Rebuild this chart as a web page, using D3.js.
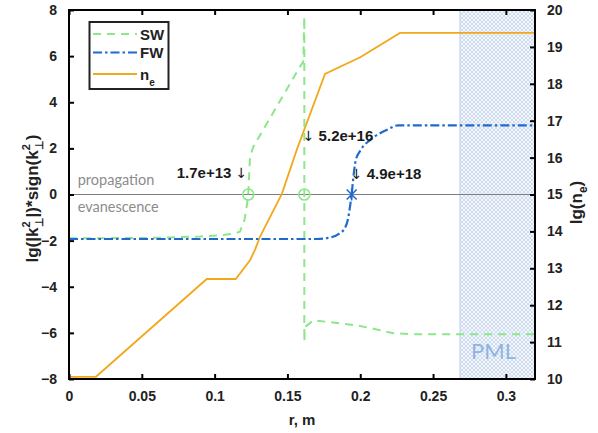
<!DOCTYPE html>
<html><head><meta charset="utf-8">
<script src="https://cdn.jsdelivr.net/npm/d3@7"></script>
<style>body{margin:0;background:#fff}svg{display:block}</style>
</head><body>
<script>
// ---------- data ----------
const xTicks = [0, 0.05, 0.1, 0.15, 0.2, 0.25, 0.3];
const xTickLabels = ["0", "0.05", "0.1", "0.15", "0.2", "0.25", "0.3"];
const yLeftTicks = [-8, -6, -4, -2, 0, 2, 4, 6, 8];
const yRightTicks = [10, 11, 12, 13, 14, 15, 16, 17, 18, 19, 20];

const swR = [0, 0.06, 0.09, 0.105, 0.113, 0.1174, 0.1205, 0.122, 0.1231, 0.1243, 0.1266, 0.1426, 0.1586, 0.1609, 0.1616, 0.1616, 0.162, 0.168, 0.177, 0.1998, 0.2113, 0.2227, 0.2388, 0.32];
const swY = [-1.9, -1.88, -1.82, -1.76, -1.7, -1.61, -1.1, -0.53, 0, 1.64, 2.07, 3.81, 5.54, 5.76, 7.71, -6.38, -5.75, -5.45, -5.52, -5.7, -5.85, -6.02, -6.06, -6.06];

const fwR = [0, 0.17, 0.178, 0.185, 0.1895, 0.1918, 0.193, 0.1941, 0.1952, 0.1968, 0.2, 0.2067, 0.2182, 0.2261, 0.32];
const fwY = [-1.93, -1.93, -1.88, -1.72, -1.45, -1.0, -0.5, 0, 0.7, 1.45, 1.9, 2.36, 2.8, 3.0, 3.0];

const neR = [0, 0.0185, 0.0946, 0.1145, 0.1243, 0.1277, 0.1312, 0.1461, 0.1564, 0.1758, 0.2, 0.2273, 0.32];
const neLg = [10.06, 10.06, 12.71, 12.71, 13.22, 13.5, 13.86, 15.01, 16.21, 18.27, 18.72, 19.38, 19.38];

const swCrossR = [0.1231, 0.1616];
const fwCrossR = [0.1941];

const annoText = ["1.7e+13 \u2193", "\u2193 5.2e+16", "\u2193 4.9e+18"];
const annoR = [0.074, 0.1605, 0.1935];
const annoY = [0.70, 2.3, 0.66];

const pmlStart = 0.2685;
const xDomain = [0, 0.32];

// ---------- layout ----------
const W = 598, H = 433;
const L = 69, R = 535, T = 10, B = 379;
const fontB = "'Liberation Sans', Arial, sans-serif";

const svg = d3.select("body").append("svg").attr("width", W).attr("height", H);
const x = d3.scaleLinear().domain(xDomain).range([L, R]);
const y = d3.scaleLinear().domain([-8, 8]).range([B, T]);
const yr = d3.scaleLinear().domain([10, 20]).range([B, T]);

const defs = svg.append("defs");
const pat = defs.append("pattern").attr("id", "hatch").attr("patternUnits", "userSpaceOnUse")
  .attr("width", 4).attr("height", 4);
pat.append("rect").attr("width", 4).attr("height", 4).attr("fill", "#f3f7fc");
pat.append("path").attr("d", "M0,0L4,4M4,0L0,4").attr("stroke", "#c6d7ee").attr("stroke-width", 0.8);
defs.append("clipPath").attr("id", "clip").append("rect").attr("x", L).attr("y", T).attr("width", R - L).attr("height", B - T);

// PML region
svg.append("rect").attr("x", x(pmlStart)).attr("y", T).attr("width", R - x(pmlStart)).attr("height", B - T)
  .attr("fill", "url(#hatch)");
svg.append("line").attr("x1", x(pmlStart)).attr("x2", x(pmlStart)).attr("y1", T).attr("y2", B)
  .attr("stroke", "#c3d5ee").attr("stroke-width", 1.2);
svg.append("text").attr("x", x(0.2915)).attr("y", y(-7.15)).attr("text-anchor", "middle")
  .attr("font-family", "Lato, 'Open Sans', sans-serif").attr("font-size", 22).attr("fill", "#8fb3e2").text("PML");

// zero line
svg.append("line").attr("x1", x(0)).attr("x2", x(0.32)).attr("y1", y(0)).attr("y2", y(0))
  .attr("stroke", "#7f7f7f").attr("stroke-width", 1.2);
svg.append("text").attr("x", x(0.006)).attr("y", y(0.4)).attr("font-family", "Lato, sans-serif")
  .attr("font-size", 14.5).attr("fill", "#8c8c8c").text("propagation");
svg.append("text").attr("x", x(0.006)).attr("y", y(-0.75)).attr("font-family", "Lato, sans-serif")
  .attr("font-size", 14.5).attr("fill", "#8c8c8c").text("evanescence");

const g = svg.append("g").attr("clip-path", "url(#clip)");
const lineL = d3.line().x(d => x(d[0])).y(d => y(d[1]));
const lineR = d3.line().x(d => x(d[0])).y(d => yr(d[1]));

const neColor = "#f2a81d", swColor = "#8ee68a", fwColor = "#1f69cf";

g.append("path").datum(neR.map((r, i) => [r, neLg[i]])).attr("d", lineR)
  .attr("fill", "none").attr("stroke", neColor).attr("stroke-width", 1.8);
g.append("path").datum(swR.map((r, i) => [r, swY[i]])).attr("d", lineL)
  .attr("fill", "none").attr("stroke", swColor).attr("stroke-width", 2).attr("stroke-dasharray", "8,6");
g.append("path").datum(fwR.map((r, i) => [r, fwY[i]])).attr("d", lineL.curve(d3.curveMonotoneX))
  .attr("fill", "none").attr("stroke", fwColor).attr("stroke-width", 2.2).attr("stroke-dasharray", "9,3,2.5,3");

// markers
svg.selectAll(".swm").data(swCrossR).enter().append("circle")
  .attr("cx", d => x(d)).attr("cy", y(0)).attr("r", 5.5)
  .attr("fill", "none").attr("stroke", swColor).attr("stroke-width", 1.6);
svg.selectAll(".fwm").data(fwCrossR).enter().append("path")
  .attr("transform", d => `translate(${x(d)},${y(0)})`)
  .attr("d", "M0,-6L0,6M-5,-5L5,5M5,-5L-5,5")
  .attr("fill", "none").attr("stroke", fwColor).attr("stroke-width", 1.5);

// annotations
annoText.forEach((t, i) => {
  const tx = svg.append("text").attr("x", x(annoR[i])).attr("y", y(annoY[i]))
    .attr("font-family", fontB).attr("font-weight", "bold").attr("font-size", 15).attr("fill", "#1a1a1a");
  const parts = t.split("\u2193");
  if (parts[0] === "") {
    tx.append("tspan").attr("font-weight", "normal").attr("font-family", "'DejaVu Sans', sans-serif").attr("font-size", 14).text("\u2193");
    tx.append("tspan").text(parts[1]);
  } else {
    tx.append("tspan").text(parts[0]);
    tx.append("tspan").attr("font-weight", "normal").attr("font-family", "'DejaVu Sans', sans-serif").attr("font-size", 14).text("\u2193");
  }
});

// axes frame
const axisG = svg.append("g");
axisG.append("rect").attr("x", L).attr("y", T).attr("width", R - L).attr("height", B - T)
  .attr("fill", "none").attr("stroke", "#000").attr("stroke-width", 2);

const tl = 5;
const styleAxis = a => { a.select(".domain").remove(); a.selectAll("line").attr("stroke-width", 2); a.selectAll("text").attr("font-family", fontB).attr("font-weight", "bold").attr("font-size", 14).attr("fill", "#222"); };
axisG.append("g").attr("transform", `translate(0,${B})`)
  .call(d3.axisBottom(x).tickValues(xTicks).tickSize(-tl).tickFormat((d, i) => xTickLabels[i]).tickPadding(12))
  .call(styleAxis);
axisG.append("g").attr("transform", `translate(0,${T})`)
  .call(d3.axisTop(x).tickValues(xTicks).tickSize(-tl).tickFormat(""))
  .call(styleAxis);
axisG.append("g").attr("transform", `translate(${L},0)`)
  .call(d3.axisLeft(y).tickValues(yLeftTicks).tickSize(-tl).tickPadding(12))
  .call(styleAxis);
axisG.append("g").attr("transform", `translate(${R},0)`)
  .call(d3.axisRight(yr).tickValues(yRightTicks).tickSize(-tl).tickPadding(12))
  .call(styleAxis);

// axis titles
svg.append("text").attr("x", (L + R) / 2).attr("y", 425).attr("text-anchor", "middle")
  .attr("font-family", fontB).attr("font-weight", "bold").attr("font-size", 15).attr("fill", "#222").text("r, m");

const lt = svg.append("text").attr("transform", `translate(38,${(T + B) / 2 + 4}) rotate(-90)`).attr("text-anchor", "middle")
  .attr("font-family", fontB).attr("font-weight", "bold").attr("font-size", 17).attr("fill", "#222");
lt.append("tspan").text("lg(|k");
lt.append("tspan").attr("font-size", 11).attr("dy", -8).text("2");
lt.append("tspan").attr("font-size", 11).attr("dx", -6).attr("dy", 13).text("\u22a5");
lt.append("tspan").attr("dy", -5).text("|)*sign(k");
lt.append("tspan").attr("font-size", 11).attr("dy", -8).text("2");
lt.append("tspan").attr("font-size", 11).attr("dx", -6).attr("dy", 13).text("\u22a5");
lt.append("tspan").attr("dy", -5).text(")");

const rt = svg.append("text").attr("transform", `translate(582,${(T + B) / 2 + 8}) rotate(-90)`).attr("text-anchor", "middle")
  .attr("font-family", fontB).attr("font-weight", "bold").attr("font-size", 17).attr("fill", "#222");
rt.append("tspan").text("lg(n");
rt.append("tspan").attr("font-size", 12).attr("dy", 5).text("e");
rt.append("tspan").attr("dy", -5).text(")");

// legend
const leg = svg.append("g");
leg.append("rect").attr("x", 89.5).attr("y", 22).attr("width", 79).attr("height", 67)
  .attr("fill", "#fff").attr("stroke", "#222").attr("stroke-width", 2);
const legItems = [
  {label: "SW", color: swColor, dash: "8,6", ly: 34},
  {label: "FW", color: fwColor, dash: "9,3,2.5,3", ly: 52.5},
  {label: "n", color: neColor, dash: null, ly: 74}
];
legItems.forEach(it => {
  leg.append("line").attr("x1", 93).attr("x2", 137).attr("y1", it.ly).attr("y2", it.ly)
    .attr("stroke", it.color).attr("stroke-width", 2.2).attr("stroke-dasharray", it.dash);
  const t = leg.append("text").attr("x", 140).attr("y", it.ly + 5.5)
    .attr("font-family", fontB).attr("font-weight", "bold").attr("font-size", 15).attr("fill", "#222").text(it.label);
  if (it.label === "n") t.append("tspan").attr("font-size", 10).attr("dy", 6).text("e");
});
</script>
</body></html>
